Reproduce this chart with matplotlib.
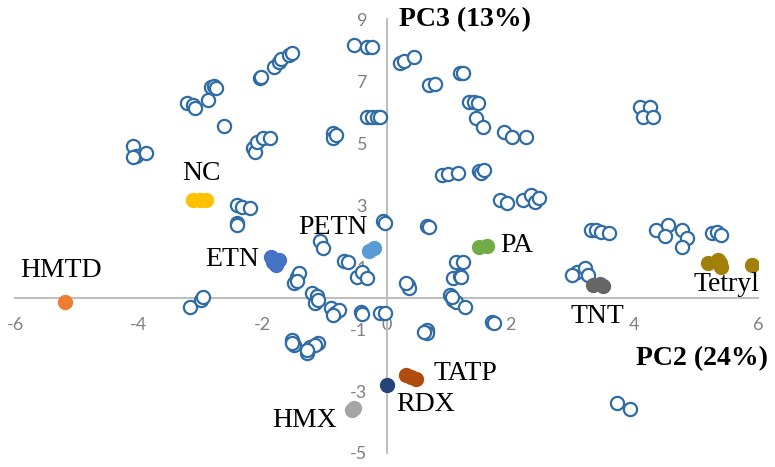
import matplotlib
matplotlib.use('Agg')
import matplotlib.pyplot as plt

plt.rcParams['axes.unicode_minus'] = False

# Unlabelled samples (open circles), PC2 / PC3 scores
pc2_open = [
    -4.10, -4.04, -3.89, -4.10,
    -3.23, -3.13, -3.10, -2.89, -2.84, -2.79, -2.75, -2.63,
    -2.15, -2.13, -2.10, -2.00, -1.89,
    -2.05, -2.02, -1.81, -1.73, -1.70, -1.57, -1.53,
    -0.52, -0.31, -0.24,
    -0.87, -0.87, -0.81,
    -0.32, -0.24, -0.16, -0.11,
    0.21, 0.29, 0.44, 0.69, 0.79, 1.18, 1.23, 1.34, 1.42, 1.47, 1.45, 1.55,
    1.89, 2.02, 2.26,
    0.90, 1.00, 1.15, 1.50, 1.53, 1.58,
    1.83, 1.95, 2.20, 2.34, 2.39, 2.47,
    4.10, 4.25, 4.14, 4.30,
    3.31, 3.39, 3.47, 3.60, 4.36, 4.54, 4.49, 4.78, 4.85, 4.77, 5.25, 5.33, 5.41,
    3.07, 3.20, 3.25, 3.00,
    3.73, 3.93,
    -3.18, -3.00, -2.96, -2.41, -2.33, -2.21, -2.42, -2.41,
    -1.45, -1.41, -1.49, -1.44, -1.20, -1.13, -1.16, -1.11, -1.08, -1.03,
    -0.89, -0.84, -0.76, -0.87, -0.68, -0.63, -0.48, -0.39, -0.32,
    -0.42, -0.40, -0.11, -0.03, -0.06, -0.03,
    -1.52, -1.49, -1.52, -1.29, -1.24, -1.11, -1.16, -1.29,
    0.66, 0.69, 0.34, 0.37, 0.32, 0.65, 0.65, 0.61,
    1.13, 1.23, 1.07, 1.18, 1.21, 1.02, 1.07, 1.13, 1.26, 1.05, 1.71, 1.74,
]
pc3_open = [
    4.90, 4.58, 4.68, 4.55,
    6.29, 6.23, 6.13, 6.39, 6.81, 6.84, 6.77, 5.55,
    4.84, 4.71, 5.03, 5.16, 5.16,
    7.10, 7.13, 7.45, 7.61, 7.71, 7.84, 7.90,
    8.16, 8.10, 8.10,
    5.32, 5.16, 5.26,
    5.84, 5.84, 5.84, 5.84,
    7.58, 7.65, 7.77, 6.87, 6.90, 7.26, 7.26, 6.32, 6.32, 6.29, 5.81, 5.52,
    5.35, 5.19, 5.19,
    3.97, 4.00, 4.03, 4.10, 4.03, 4.13,
    3.16, 3.06, 3.16, 3.32, 3.10, 3.23,
    6.16, 6.16, 5.84, 5.84,
    2.19, 2.19, 2.13, 2.10, 2.19, 2.35, 2.00, 2.19, 1.94, 1.65, 2.10, 2.13, 2.03,
    0.84, 0.97, 0.74, 0.74,
    -3.39, -3.58,
    -0.29, -0.06, 0.03, 3.00, 2.94, 2.90, 2.42, 2.35,
    0.68, 0.81, 0.48, 0.55, 0.16, 0.06, -0.16, -0.06, 1.84, 1.61,
    -0.32, -0.48, -0.39, -0.55, 1.19, 1.16, 0.68, 0.84, 0.65,
    -0.45, -0.52, -0.48, -0.48, 2.48, 2.42,
    -1.35, -1.52, -1.45, -1.77, -1.58, -1.45, -1.52, -1.68,
    2.32, 2.29, 0.42, 0.32, 0.48, -1.03, -1.13, -1.10,
    1.16, 1.16, 0.65, 0.71, 0.68, 0.10, -0.06, -0.13, -0.29, 0.03, -0.77, -0.81,
]

# Explosives (filled markers)
explosives = ['NC', 'HMTD', 'ETN', 'PETN', 'PA', 'TNT', 'Tetryl', 'TATP', 'RDX', 'HMX']
pc2_expl = [
    [-3.13, -3.02, -2.91],
    [-5.20],
    [-1.86, -1.84, -1.73, -1.78, -1.81],
    [-0.29, -0.21],
    [1.50, 1.62],
    [3.34, 3.44, 3.49],
    [5.19, 5.35, 5.41, 5.38, 5.91],
    [0.31, 0.40, 0.47],
    [0.00],
    [-0.55, -0.53],
]
pc3_expl = [
    [3.16, 3.16, 3.16],
    [-0.13],
    [1.32, 1.16, 1.23, 1.06, 1.23],
    [1.52, 1.61],
    [1.65, 1.68],
    [0.42, 0.45, 0.39],
    [1.13, 1.23, 1.00, 1.13, 1.06],
    [-2.48, -2.55, -2.61],
    [-2.81],
    [-3.61, -3.55],
]
expl_colors = ['#FFC000', '#ED7D31', '#4472C4', '#5B9BD5', '#70AD47',
               '#666666', '#A07F0A', '#B04C0C', '#264478', '#A5A5A5']
# label centres (data units)
label_pos = [(-2.99, 4.03), (-5.25, 0.90), (-2.49, 1.23), (-0.86, 2.29), (2.11, 1.71),
             (3.40, -0.58), (5.49, 0.45), (1.28, -2.42), (0.63, -3.45), (-1.33, -3.94)]

x_ticks = [-6, -4, -2, 0, 2, 4, 6]
y_ticks = [-5, -3, -1, 1, 3, 5, 7, 9]

fig = plt.figure(figsize=(7.75, 4.67), dpi=100)
ax = fig.add_axes([0.0194, 0.030, 0.9587, 0.929])
ax.set_xlim(-6, 6)
ax.set_ylim(-5, 9)

for s in ['top', 'right']:
    ax.spines[s].set_visible(False)
for s in ['left', 'bottom']:
    ax.spines[s].set_position(('data', 0))
    ax.spines[s].set_color('#BFBFBF')
    ax.spines[s].set_linewidth(1.5)

ax.set_xticks(x_ticks)
ax.set_yticks(y_ticks)
ax.tick_params(axis='both', length=0, colors='#808080', labelsize=13)
ax.tick_params(axis='x', pad=14)
ax.tick_params(axis='y', pad=14)
for lab in ax.get_xticklabels() + ax.get_yticklabels():
    lab.set_family('Lato')

ax.plot(pc2_open, pc3_open, linestyle='none', marker='o', markersize=9.5,
        markerfacecolor='white', markeredgecolor='#2F6CA6', markeredgewidth=1.6, zorder=3)

for name, xs, ys, c, (lx, ly) in zip(explosives, pc2_expl, pc3_expl, expl_colors, label_pos):
    ax.plot(xs, ys, linestyle='none', marker='o', markersize=10,
            markerfacecolor=c, markeredgecolor=c, zorder=4)
    ax.text(lx, ly, name, ha='center', va='center', fontsize=20,
            family='Liberation Serif', color='black', zorder=5)

ax.text(1.26, 8.97, 'PC3 (13%)', ha='center', va='center', fontsize=20,
        family='Liberation Serif', fontweight='bold')
ax.text(5.09, -1.97, 'PC2 (24%)', ha='center', va='center', fontsize=20,
        family='Liberation Serif', fontweight='bold')

fig.savefig('out.png', dpi=100)
